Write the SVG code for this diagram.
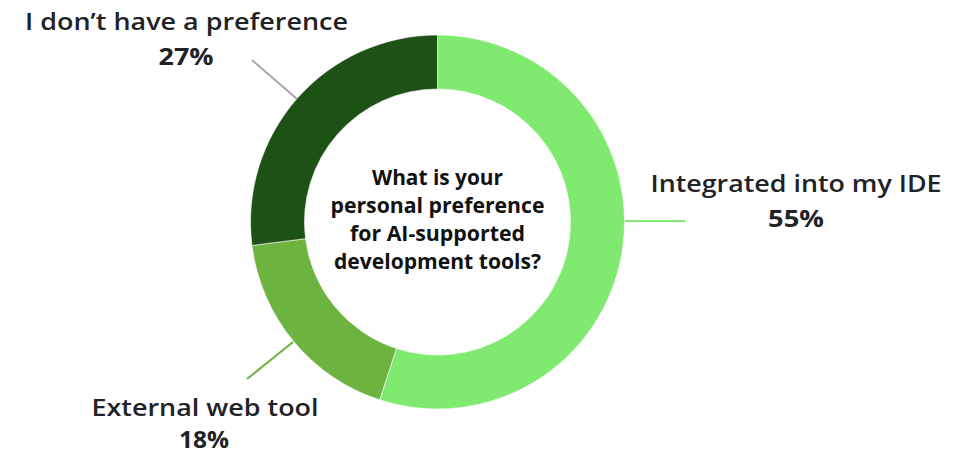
<svg xmlns="http://www.w3.org/2000/svg" width="964" height="454" viewBox="0 0 964 454">
<style>
.lbl{font-family:"Open Sans","Liberation Sans",sans-serif;font-size:24px;font-weight:600;fill:#1f2326;text-anchor:middle}
.pct{font-family:"Open Sans","Liberation Sans",sans-serif;font-size:24px;font-weight:700;fill:#1f2326;text-anchor:middle}
.q{font-family:"Open Sans","Liberation Sans",sans-serif;font-size:21px;font-weight:700;fill:#111;text-anchor:middle}
.seg{stroke:#ffffff;stroke-width:0.6}
.lead{fill:none;stroke-width:2}
</style>
<rect width="964" height="454" fill="#ffffff"/>
<g id="ide">
<path class="seg" fill="#80ea70" d="M437.5,35 A187,187 0 1 1 379.71,399.85 L396.40,348.49 A133,133 0 1 0 437.5,89 Z"/>
<text class="lbl" x="796" y="192" textLength="291" lengthAdjust="spacingAndGlyphs">Integrated into my IDE</text>
<text class="pct" x="796" y="227" textLength="56" lengthAdjust="spacingAndGlyphs">55%</text>
</g>
<g id="external">
<path class="seg" fill="#6db33f" d="M379.71,399.85 A187,187 0 0 1 251.98,245.44 L305.55,238.67 A133,133 0 0 0 396.40,348.49 Z"/>
<text class="lbl" x="205" y="416" textLength="227" lengthAdjust="spacingAndGlyphs">External web tool</text>
<text class="pct" x="204" y="448" textLength="50" lengthAdjust="spacingAndGlyphs">18%</text>
</g>
<g id="nopref">
<path class="seg" fill="#1e5115" d="M251.98,245.44 A187,187 0 0 1 437.5,35 L437.5,89 A133,133 0 0 0 305.55,238.67 Z"/>
<text class="lbl" x="186.5" y="30" textLength="323" lengthAdjust="spacingAndGlyphs">I don’t have a preference</text>
<text class="pct" x="186" y="65" textLength="55" lengthAdjust="spacingAndGlyphs">27%</text>
</g>
<g id="question">
<text class="q" x="437.5" y="185" textLength="131" lengthAdjust="spacingAndGlyphs">What is your</text>
<text class="q" x="437.5" y="213" textLength="214" lengthAdjust="spacingAndGlyphs">personal preference</text>
<text class="q" x="437.5" y="241" textLength="175" lengthAdjust="spacingAndGlyphs">for AI-supported</text>
<text class="q" x="437.5" y="269" textLength="207" lengthAdjust="spacingAndGlyphs">development tools?</text>
</g>
<g id="connectors">
<line class="lead" x1="625" y1="221" x2="685" y2="221" stroke="#80ea70"/>
<line class="lead" x1="293" y1="342" x2="247" y2="379" stroke="#6db33f"/>
<line class="lead" x1="297" y1="99" x2="252" y2="60" stroke="#a6a6a6"/>
</g>
</svg>
